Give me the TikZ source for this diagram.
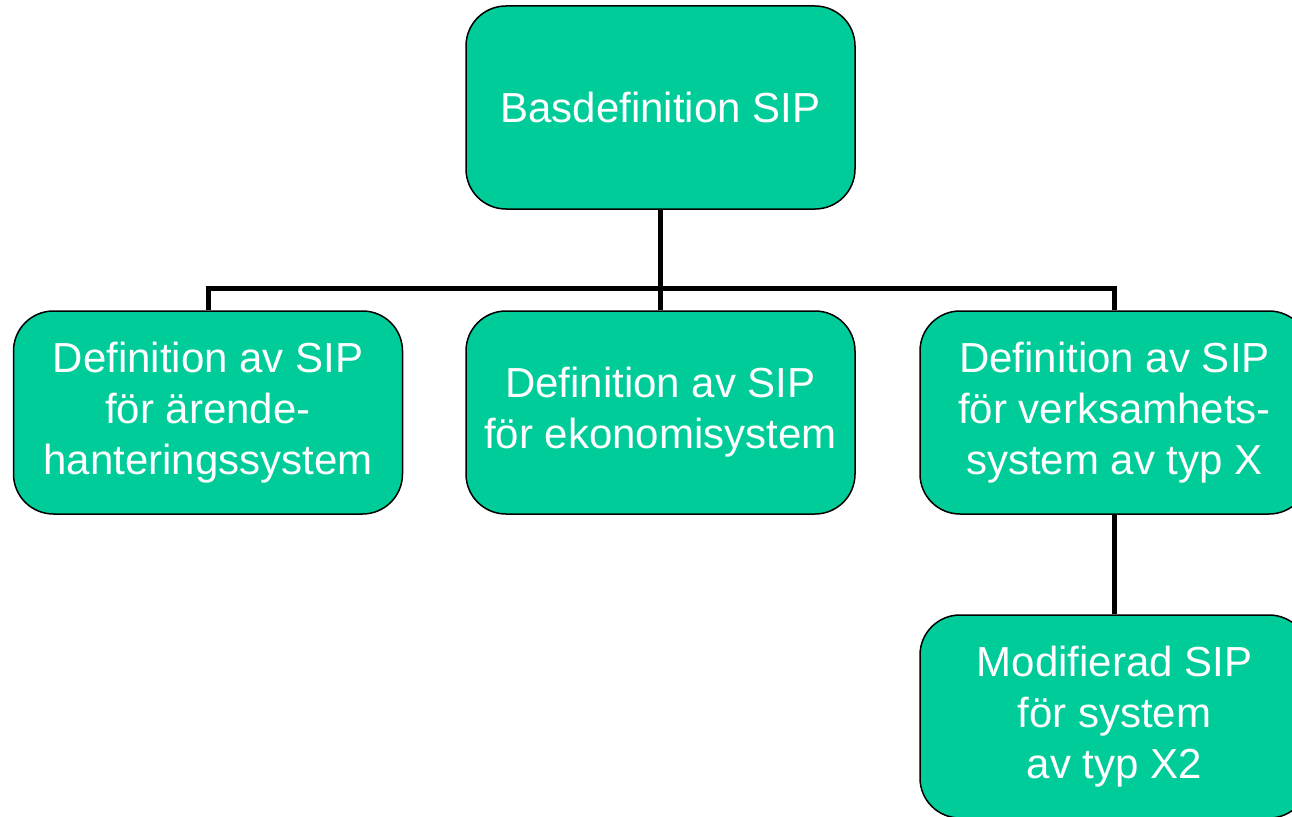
\documentclass[tikz,border=0pt]{standalone}
\usepackage{fontspec}
\setmainfont{Liberation Sans}
\definecolor{sipgreen}{RGB}{0,204,153}

\begin{document}
\begin{tikzpicture}[x=1pt,y=-1pt,
  sipbox/.style={rectangle,rounded corners=40pt,draw=black,line width=1.5pt,fill=sipgreen,
    text=white,align=center,minimum width=389pt,minimum height=203pt,inner sep=0,
    font=\fontsize{42}{51}\selectfont},
  bar/.style={line width=5pt}]
\useasboundingbox (0,0) rectangle (1292,816);

\node[sipbox] (BAS) at (660.5,107.5) {Basdefinition SIP};
\node[sipbox] (ARENDE) at (208,412.5) {Definition av SIP\\för ärende-\\hanteringssystem};
\node[sipbox] (EKONOMI) at (660.5,412.5) {Definition av SIP\\för ekonomisystem};
\node[sipbox] (VERKS) at (1114.5,412.5) {Definition av SIP\\för verksamhets-\\system av typ X};
\node[sipbox] (MODX2) at (1114.5,716.5) {Modifierad SIP\\för system\\av typ X2};

\coordinate (BUS) at (660.5,288);
\draw[bar] (BAS.south) -- (BUS);
\draw[bar] (ARENDE.north) |- (BUS) -| (VERKS.north);
\draw[bar] (BUS) -- (EKONOMI.north);
\draw[bar] (VERKS.south) -- (MODX2.north);
\end{tikzpicture}
\end{document}
